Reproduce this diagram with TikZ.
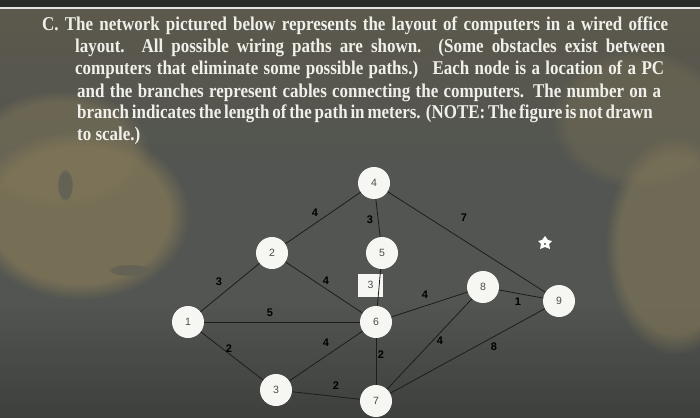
\documentclass[tikz,border=0pt]{standalone}
\usepackage{fontspec}
\setmainfont{Liberation Serif}
\newfontfamily\lsans{Liberation Sans}
\newfontfamily\headfont[FakeStretch=0.87]{Liberation Serif}
\usetikzlibrary{fadings}
\definecolor{bgbase}{RGB}{82,85,81}
\definecolor{bgtop}{RGB}{92,88,76}
\definecolor{bgdark}{RGB}{62,64,61}
\definecolor{olive}{RGB}{128,118,88}
\definecolor{spotcol}{RGB}{100,98,84}
\definecolor{txtwhite}{RGB}{240,240,234}
\definecolor{nodefill}{RGB}{246,246,242}
\definecolor{numgray}{RGB}{75,75,75}
\definecolor{edgecol}{RGB}{28,30,28}
\tikzset{
  pc/.style={circle, fill=nodefill, minimum size=32pt, inner sep=0pt, font=\lsans\fontsize{10.5}{10.5}\selectfont, text=numgray},
  cable/.style={draw=edgecol, line width=0.8pt},
  wt/.style={font=\lsans\bfseries\fontsize{11}{11}\selectfont, text=black, inner sep=0pt},
  ln/.style={anchor=base west, inner sep=0pt, text=txtwhite, font=\headfont\bfseries\fontsize{19.5}{19.5}\selectfont},
  blob/.style={fill=olive, path fading=circle with fuzzy edge 20 percent},
  spot/.style={fill=spotcol, path fading=circle with fuzzy edge 20 percent}
}
\begin{document}
\begin{tikzpicture}[x=1pt,y=-1pt]
\useasboundingbox (0,0) rectangle (700,417);
% background
\fill[bgbase] (0,0) rectangle (700,417);
\shade[top color=bgtop, bottom color=bgbase] (0,9) rectangle (700,170);
\shade[top color=bgbase, bottom color=bgdark] (0,300) rectangle (700,417);
\fill[blob, opacity=0.8] (80,215) ellipse [x radius=110pt, y radius=85pt];
\fill[blob, opacity=0.5] (60,150) ellipse [x radius=90pt, y radius=60pt];
\fill[blob, opacity=0.65] (675,245) ellipse [x radius=70pt, y radius=110pt];
\fill[blob, opacity=0.35] (640,120) ellipse [x radius=90pt, y radius=70pt];
\fill[spot] (65,185) ellipse [x radius=8pt, y radius=16pt];
\fill[spot] (130,270) ellipse [x radius=22pt, y radius=6pt];
\fill[bgdark!70!black] (0,0) rectangle (700,7);
\fill[white!80!gray] (0,7) rectangle (700,9.5);
% text
\node[ln] (t1) at (42,31) {\makebox[626pt][s]{C. The network pictured below represents the layout of computers in a wired office}};
\node[ln] (t2) at (75,53) {\makebox[590pt][s]{layout. All possible wiring paths are shown. (Some obstacles exist between}};
\node[ln] (t3) at (75,75) {\makebox[589pt][s]{computers that eliminate some possible paths.) \ Each node is a location of a PC}};
\node[ln] (t4) at (77,97) {\makebox[584pt][s]{and the branches represent cables connecting the computers. The number on a}};
\node[ln] (t5) at (77,118) {\makebox[573pt][s]{branch indicates the length of the path in meters. (NOTE: The figure is not drawn}};
\node[ln] (t6) at (77,140) {to scale.)};
% nodes
\node[pc] (n1) at (188,322) {1};
\node[pc] (n2) at (272,253) {2};
\node[pc] (n3) at (276,390) {3};
\node[pc] (n4) at (374,183) {4};
\node[pc] (n5) at (382,253) {5};
\node[pc] (n6) at (376,322) {6};
\node[pc] (n7) at (376,401) {7};
\node[pc] (n8) at (483,287) {8};
\node[pc] (n9) at (559,301) {9};
% box with 3
\node[fill=nodefill, minimum width=25pt, minimum height=23pt, inner sep=0pt, font=\lsans\fontsize{10.5}{10.5}\selectfont, text=numgray] (bx) at (370.5,285) {3};
% cables
\draw[cable] (n1) -- (n2);
\draw[cable] (n1) -- (n6);
\draw[cable] (n1) -- (n3);
\draw[cable] (n2) -- (n4);
\draw[cable] (n2) -- (n6);
\draw[cable] (n3) -- (n6);
\draw[cable] (n3) -- (n7);
\draw[cable] (n4) -- (n5);
\draw[cable] (n4) -- (n9);
\draw[cable] (n5) -- (n6);
\draw[cable] (n6) -- (n7);
\draw[cable] (n6) -- (n8);
\draw[cable] (n7) -- (n8);
\draw[cable] (n7) -- (n9);
\draw[cable] (n8) -- (n9);
% weights
\node[wt] (w12) at (219,282) {3};
\node[wt] (w24) at (315,213) {4};
\node[wt] (w45) at (370,220) {3};
\node[wt] (w26) at (326,281) {4};
\node[wt] (w16) at (270,313) {5};
\node[wt] (w13) at (229,349) {2};
\node[wt] (w36) at (326,343) {4};
\node[wt] (w67) at (381,355) {2};
\node[wt] (w37) at (336,386) {2};
\node[wt] (w49) at (464,218) {7};
\node[wt] (w68) at (425,295) {4};
\node[wt] (w89) at (518,302) {1};
\node[wt] (w78) at (440,341) {4};
\node[wt] (w79) at (494,347) {8};
% cursor
\fill[white] (545,236) -- (548,240) -- (552,241) -- (549,244) -- (550,249) -- (545,247) -- (540,249) -- (541,244) -- (538,241) -- (542,240) -- cycle;
\fill[black!70] (545,244) circle (1.2pt);
\end{tikzpicture}
\end{document}
